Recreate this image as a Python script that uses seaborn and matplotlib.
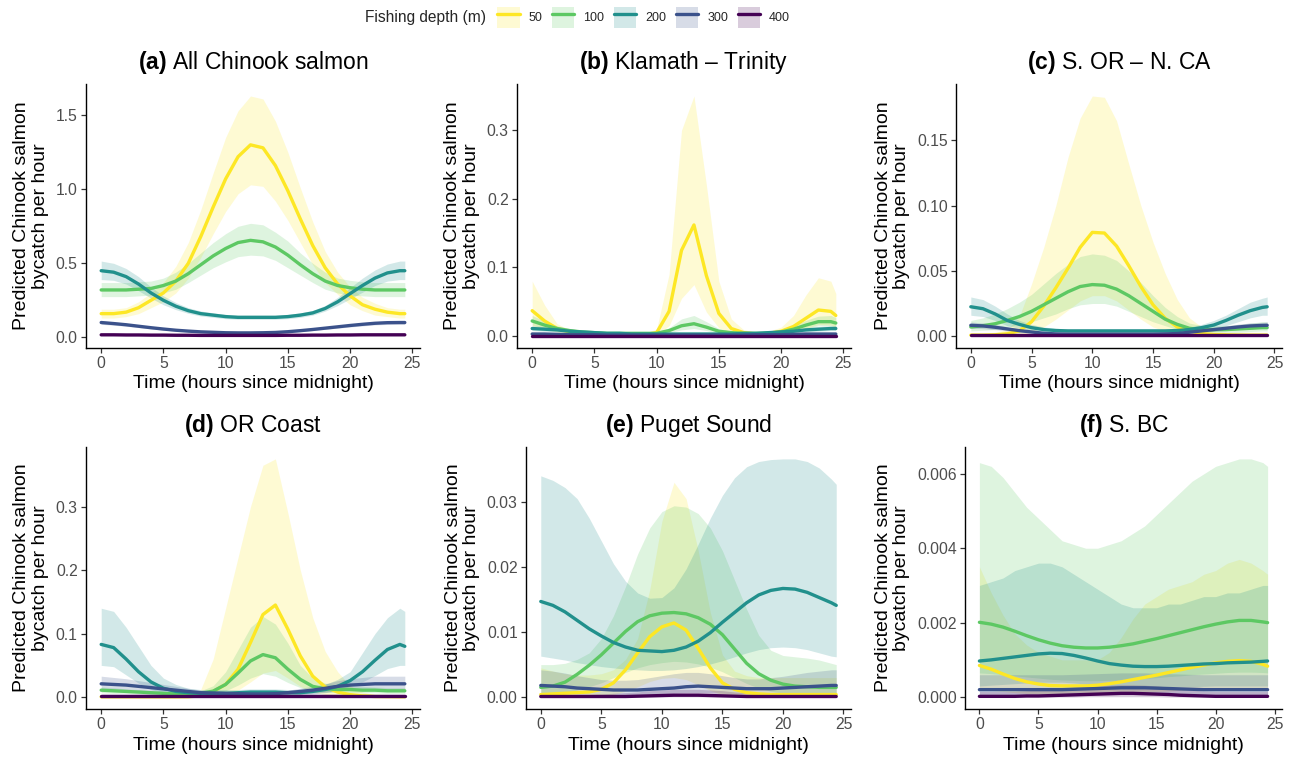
import numpy as np
import pandas as pd
import matplotlib
matplotlib.use("Agg")
import matplotlib.pyplot as plt
import seaborn as sns
from matplotlib.patches import Patch
from matplotlib.lines import Line2D
from matplotlib.legend_handler import HandlerTuple
from matplotlib.ticker import FixedLocator, FormatStrFormatter

sns.set_theme(style="ticks")
plt.rcParams['font.family'] = ['Liberation Sans', 'DejaVu Sans']
plt.rcParams['mathtext.fontset'] = 'custom'
plt.rcParams['mathtext.rm'] = 'Liberation Sans'
plt.rcParams['mathtext.bf'] = 'Liberation Sans:bold'

# ---------------- data ----------------
HOURS = [0, 1, 2, 3, 4, 5, 6, 7, 8, 9, 10, 11, 12, 13, 14, 15, 16, 17, 18, 19, 20, 21, 22, 23, 24, 24.4]
DEPTHS = ["50", "100", "200", "300", "400"]
COLORS = ["#FDE725", "#5DC863", "#21908C", "#3B528B", "#440154"]

TITLES = ["All Chinook salmon", "Klamath \u2013 Trinity", "S. OR \u2013 N. CA",
          "OR Coast", "Puget Sound", "S. BC"]
LETTERS = ["(a)", "(b)", "(c)", "(d)", "(e)", "(f)"]
XTICKS = [0, 5, 10, 15, 20, 25]
YTICKS = [[0.0, 0.5, 1.0, 1.5], [0.0, 0.1, 0.2, 0.3], [0.0, 0.05, 0.10, 0.15],
          [0.0, 0.1, 0.2, 0.3], [0.0, 0.01, 0.02, 0.03], [0.0, 0.002, 0.004, 0.006]]
YDECIMALS = [1, 1, 2, 1, 2, 3]

# (a) All Chinook salmon
A50 = [0.16, 0.16, 0.17, 0.20, 0.25, 0.30, 0.38, 0.50, 0.68, 0.88, 1.07, 1.22, 1.30, 1.28, 1.16, 0.99, 0.80, 0.62, 0.47, 0.36, 0.28, 0.22, 0.19, 0.17, 0.16, 0.16]
A50_LO = [0.13, 0.13, 0.14, 0.16, 0.20, 0.24, 0.30, 0.40, 0.54, 0.70, 0.85, 0.97, 1.03, 1.02, 0.92, 0.79, 0.64, 0.49, 0.37, 0.29, 0.22, 0.18, 0.15, 0.14, 0.13, 0.13]
A50_HI = [0.19, 0.19, 0.20, 0.24, 0.30, 0.37, 0.48, 0.64, 0.86, 1.11, 1.35, 1.53, 1.63, 1.61, 1.46, 1.25, 1.01, 0.78, 0.58, 0.44, 0.34, 0.27, 0.23, 0.20, 0.19, 0.19]
A100 = [0.32, 0.32, 0.32, 0.325, 0.33, 0.35, 0.38, 0.43, 0.49, 0.55, 0.60, 0.64, 0.655, 0.645, 0.61, 0.555, 0.49, 0.43, 0.38, 0.35, 0.335, 0.325, 0.32, 0.32, 0.32, 0.32]
A100_LO = [0.275, 0.275, 0.275, 0.28, 0.285, 0.30, 0.325, 0.37, 0.42, 0.47, 0.51, 0.545, 0.555, 0.55, 0.52, 0.47, 0.42, 0.37, 0.325, 0.30, 0.285, 0.28, 0.275, 0.275, 0.275, 0.275]
A100_HI = [0.37, 0.37, 0.37, 0.375, 0.38, 0.40, 0.44, 0.50, 0.57, 0.64, 0.70, 0.75, 0.77, 0.76, 0.71, 0.65, 0.57, 0.50, 0.44, 0.40, 0.385, 0.375, 0.37, 0.37, 0.37, 0.37]
A200 = [0.45, 0.44, 0.41, 0.36, 0.30, 0.25, 0.21, 0.18, 0.16, 0.15, 0.14, 0.135, 0.135, 0.135, 0.135, 0.14, 0.15, 0.165, 0.195, 0.24, 0.295, 0.35, 0.40, 0.435, 0.45, 0.45]
A200_LO = [0.39, 0.385, 0.36, 0.315, 0.265, 0.22, 0.187, 0.162, 0.144, 0.135, 0.126, 0.122, 0.122, 0.122, 0.122, 0.126, 0.135, 0.15, 0.177, 0.215, 0.26, 0.305, 0.35, 0.38, 0.39, 0.39]
A200_HI = [0.515, 0.50, 0.465, 0.41, 0.34, 0.28, 0.235, 0.20, 0.178, 0.165, 0.155, 0.15, 0.15, 0.15, 0.15, 0.155, 0.165, 0.182, 0.215, 0.27, 0.335, 0.40, 0.455, 0.495, 0.515, 0.515]
A300 = [0.10, 0.093, 0.085, 0.075, 0.065, 0.056, 0.048, 0.042, 0.037, 0.034, 0.031, 0.030, 0.030, 0.031, 0.033, 0.038, 0.045, 0.053, 0.062, 0.071, 0.080, 0.088, 0.095, 0.099, 0.10, 0.10]
A300_LO = [0.088, 0.082, 0.075, 0.066, 0.057, 0.049, 0.042, 0.037, 0.032, 0.030, 0.027, 0.026, 0.026, 0.027, 0.029, 0.033, 0.039, 0.046, 0.054, 0.062, 0.070, 0.077, 0.084, 0.087, 0.088, 0.088]
A300_HI = [0.112, 0.104, 0.095, 0.084, 0.073, 0.063, 0.054, 0.047, 0.042, 0.038, 0.035, 0.034, 0.034, 0.035, 0.037, 0.043, 0.051, 0.060, 0.070, 0.080, 0.090, 0.099, 0.106, 0.110, 0.112, 0.112]
A400 = [0.017, 0.017, 0.016, 0.016, 0.015, 0.015, 0.014, 0.014, 0.013, 0.013, 0.013, 0.013, 0.013, 0.013, 0.013, 0.014, 0.014, 0.015, 0.015, 0.016, 0.016, 0.017, 0.017, 0.017, 0.017, 0.017]
A400_LO = [0.013, 0.013, 0.012, 0.012, 0.011, 0.011, 0.010, 0.010, 0.009, 0.009, 0.009, 0.009, 0.009, 0.009, 0.009, 0.010, 0.010, 0.011, 0.011, 0.012, 0.012, 0.013, 0.013, 0.013, 0.013, 0.013]
A400_HI = [0.022, 0.022, 0.021, 0.021, 0.020, 0.020, 0.019, 0.019, 0.018, 0.018, 0.018, 0.018, 0.018, 0.018, 0.018, 0.019, 0.019, 0.020, 0.020, 0.021, 0.021, 0.022, 0.022, 0.022, 0.022, 0.022]

# (b) Klamath - Trinity
B50 = [0.037, 0.022, 0.011, 0.006, 0.004, 0.003, 0.003, 0.002, 0.002, 0.002, 0.005, 0.036, 0.125, 0.162, 0.088, 0.033, 0.011, 0.005, 0.003, 0.004, 0.007, 0.014, 0.026, 0.038, 0.036, 0.030]
B50_LO = [0.015, 0.010, 0.006, 0.003, 0.002, 0.002, 0.001, 0.001, 0.001, 0.001, 0.002, 0.015, 0.055, 0.075, 0.035, 0.012, 0.004, 0.002, 0.001, 0.002, 0.004, 0.007, 0.011, 0.017, 0.016, 0.013]
B50_HI = [0.080, 0.045, 0.018, 0.009, 0.006, 0.005, 0.004, 0.004, 0.004, 0.004, 0.010, 0.090, 0.300, 0.350, 0.220, 0.080, 0.025, 0.009, 0.006, 0.007, 0.013, 0.030, 0.060, 0.085, 0.080, 0.062]
B100 = [0.022, 0.016, 0.011, 0.008, 0.006, 0.005, 0.004, 0.004, 0.004, 0.004, 0.004, 0.008, 0.015, 0.018, 0.013, 0.007, 0.005, 0.004, 0.004, 0.004, 0.006, 0.010, 0.016, 0.021, 0.021, 0.019]
B100_LO = [0.016, 0.011, 0.008, 0.006, 0.004, 0.003, 0.003, 0.003, 0.003, 0.003, 0.003, 0.005, 0.009, 0.011, 0.008, 0.004, 0.003, 0.003, 0.003, 0.003, 0.004, 0.007, 0.011, 0.015, 0.015, 0.013]
B100_HI = [0.030, 0.022, 0.015, 0.011, 0.008, 0.007, 0.006, 0.006, 0.006, 0.006, 0.006, 0.012, 0.025, 0.030, 0.021, 0.011, 0.007, 0.006, 0.006, 0.006, 0.009, 0.015, 0.023, 0.029, 0.030, 0.027]
B200 = [0.011, 0.010, 0.009, 0.007, 0.006, 0.005, 0.004, 0.004, 0.003, 0.003, 0.003, 0.003, 0.003, 0.003, 0.003, 0.003, 0.003, 0.004, 0.004, 0.005, 0.006, 0.007, 0.009, 0.010, 0.011, 0.011]
B200_LO = [0.008, 0.007, 0.006, 0.005, 0.004, 0.003, 0.003, 0.003, 0.002, 0.002, 0.002, 0.002, 0.002, 0.002, 0.002, 0.002, 0.002, 0.003, 0.003, 0.003, 0.004, 0.005, 0.006, 0.007, 0.008, 0.008]
B200_HI = [0.015, 0.014, 0.012, 0.010, 0.008, 0.007, 0.006, 0.005, 0.004, 0.004, 0.004, 0.004, 0.004, 0.004, 0.004, 0.004, 0.004, 0.005, 0.006, 0.007, 0.008, 0.010, 0.012, 0.014, 0.015, 0.015]
B300 = [0.003, 0.003, 0.0025, 0.002, 0.002, 0.002, 0.0015, 0.0015, 0.0015, 0.0015, 0.0015, 0.0015, 0.0015, 0.0015, 0.0015, 0.0015, 0.0015, 0.0015, 0.002, 0.002, 0.002, 0.0025, 0.003, 0.003, 0.003, 0.003]
B300_LO = [0.0015, 0.0015, 0.0012, 0.001, 0.001, 0.001, 0.0008, 0.0008, 0.0008, 0.0008, 0.0008, 0.0008, 0.0008, 0.0008, 0.0008, 0.0008, 0.0008, 0.0008, 0.001, 0.001, 0.001, 0.0012, 0.0015, 0.0015, 0.0015, 0.0015]
B300_HI = [0.005, 0.005, 0.0045, 0.004, 0.0035, 0.003, 0.003, 0.0025, 0.0025, 0.0025, 0.0025, 0.0025, 0.0025, 0.0025, 0.0025, 0.0025, 0.0025, 0.003, 0.003, 0.0035, 0.004, 0.0045, 0.005, 0.005, 0.005, 0.005]
B400 = [0.0005, 0.0005, 0.0005, 0.0005, 0.0005, 0.0005, 0.0005, 0.0005, 0.0005, 0.0005, 0.0005, 0.0005, 0.0005, 0.0005, 0.0005, 0.0005, 0.0005, 0.0005, 0.0005, 0.0005, 0.0005, 0.0005, 0.0005, 0.0005, 0.0005, 0.0005]
B400_LO = [0.0001, 0.0001, 0.0001, 0.0001, 0.0001, 0.0001, 0.0001, 0.0001, 0.0001, 0.0001, 0.0001, 0.0001, 0.0001, 0.0001, 0.0001, 0.0001, 0.0001, 0.0001, 0.0001, 0.0001, 0.0001, 0.0001, 0.0001, 0.0001, 0.0001, 0.0001]
B400_HI = [0.0015, 0.0015, 0.0015, 0.0015, 0.0015, 0.0015, 0.0015, 0.0015, 0.0015, 0.0015, 0.0015, 0.0015, 0.0015, 0.0015, 0.0015, 0.0015, 0.0015, 0.0015, 0.0015, 0.0015, 0.0015, 0.0015, 0.0015, 0.0015, 0.0015, 0.0015]

# (c) S. OR - N. CA
C50 = [0.0008, 0.0008, 0.001, 0.0018, 0.004, 0.011, 0.023, 0.037, 0.052, 0.068, 0.0795, 0.079, 0.069, 0.054, 0.038, 0.024, 0.0137, 0.007, 0.004, 0.002, 0.0012, 0.001, 0.0008, 0.0007, 0.0007, 0.0007]
C50_LO = [0.0001, 0.0001, 0.0002, 0.0004, 0.001, 0.003, 0.007, 0.013, 0.020, 0.027, 0.031, 0.031, 0.027, 0.020, 0.013, 0.007, 0.004, 0.002, 0.001, 0.0005, 0.0003, 0.0003, 0.0002, 0.0002, 0.0002, 0.0002]
C50_HI = [0.002, 0.002, 0.003, 0.005, 0.015, 0.040, 0.068, 0.100, 0.137, 0.167, 0.184, 0.183, 0.165, 0.132, 0.100, 0.072, 0.048, 0.028, 0.014, 0.007, 0.004, 0.003, 0.003, 0.003, 0.003, 0.003]
C100 = [0.007, 0.008, 0.0095, 0.012, 0.015, 0.019, 0.024, 0.029, 0.034, 0.038, 0.0395, 0.039, 0.036, 0.031, 0.025, 0.019, 0.013, 0.009, 0.006, 0.005, 0.005, 0.005, 0.0055, 0.006, 0.0065, 0.0065]
C100_LO = [0.004, 0.0045, 0.005, 0.007, 0.009, 0.011, 0.014, 0.017, 0.021, 0.024, 0.025, 0.025, 0.023, 0.019, 0.015, 0.011, 0.008, 0.005, 0.0035, 0.003, 0.003, 0.003, 0.003, 0.0035, 0.004, 0.004]
C100_HI = [0.012, 0.014, 0.017, 0.021, 0.026, 0.032, 0.040, 0.048, 0.055, 0.061, 0.063, 0.062, 0.058, 0.050, 0.041, 0.031, 0.022, 0.015, 0.010, 0.008, 0.008, 0.008, 0.009, 0.010, 0.011, 0.011]
C200 = [0.0225, 0.021, 0.017, 0.012, 0.009, 0.0065, 0.005, 0.0043, 0.004, 0.004, 0.004, 0.004, 0.004, 0.004, 0.004, 0.004, 0.004, 0.0043, 0.005, 0.0065, 0.0085, 0.012, 0.016, 0.0195, 0.022, 0.0225]
C200_LO = [0.016, 0.015, 0.012, 0.008, 0.006, 0.0045, 0.0035, 0.003, 0.0028, 0.0028, 0.0028, 0.0028, 0.0028, 0.0028, 0.0028, 0.0028, 0.0028, 0.003, 0.0035, 0.0045, 0.006, 0.008, 0.011, 0.014, 0.016, 0.016]
C200_HI = [0.030, 0.028, 0.023, 0.017, 0.012, 0.009, 0.007, 0.006, 0.0055, 0.0055, 0.0055, 0.0055, 0.0055, 0.0055, 0.0055, 0.0055, 0.0055, 0.006, 0.007, 0.009, 0.012, 0.016, 0.021, 0.026, 0.029, 0.030]
C300 = [0.0083, 0.0078, 0.0068, 0.0055, 0.0042, 0.0032, 0.0022, 0.0017, 0.0015, 0.0015, 0.0015, 0.0015, 0.0015, 0.0015, 0.0015, 0.0015, 0.0017, 0.002, 0.003, 0.004, 0.005, 0.006, 0.007, 0.0078, 0.0082, 0.0083]
C300_LO = [0.006, 0.0057, 0.005, 0.004, 0.003, 0.0023, 0.0016, 0.0012, 0.001, 0.001, 0.001, 0.001, 0.001, 0.001, 0.001, 0.001, 0.0012, 0.0014, 0.0021, 0.0029, 0.0036, 0.0043, 0.005, 0.0056, 0.006, 0.006]
C300_HI = [0.0108, 0.0101, 0.0088, 0.0072, 0.0056, 0.0043, 0.003, 0.0024, 0.0021, 0.0021, 0.0021, 0.0021, 0.0021, 0.0021, 0.0021, 0.0021, 0.0024, 0.0028, 0.0041, 0.0053, 0.0066, 0.0078, 0.0091, 0.0101, 0.0106, 0.0108]
C400 = [0.0005, 0.0005, 0.0005, 0.0005, 0.0005, 0.0005, 0.0005, 0.0005, 0.0005, 0.0005, 0.0005, 0.0005, 0.0005, 0.0005, 0.0005, 0.0005, 0.0005, 0.0005, 0.0005, 0.0005, 0.0005, 0.0005, 0.0005, 0.0005, 0.0005, 0.0005]
C400_LO = [0.0001, 0.0001, 0.0001, 0.0001, 0.0001, 0.0001, 0.0001, 0.0001, 0.0001, 0.0001, 0.0001, 0.0001, 0.0001, 0.0001, 0.0001, 0.0001, 0.0001, 0.0001, 0.0001, 0.0001, 0.0001, 0.0001, 0.0001, 0.0001, 0.0001, 0.0001]
C400_HI = [0.0012, 0.0012, 0.0012, 0.0012, 0.0012, 0.0012, 0.0012, 0.0012, 0.0012, 0.0012, 0.0012, 0.0012, 0.0012, 0.0012, 0.0012, 0.0012, 0.0012, 0.0012, 0.0012, 0.0012, 0.0012, 0.0012, 0.0012, 0.0012, 0.0012, 0.0012]

# (d) OR Coast
D50 = [0.0005, 0.0005, 0.0005, 0.0005, 0.0005, 0.0005, 0.0005, 0.0007, 0.002, 0.009, 0.020, 0.044, 0.086, 0.130, 0.145, 0.107, 0.065, 0.033, 0.016, 0.008, 0.004, 0.002, 0.001, 0.0008, 0.0006, 0.0006]
D50_LO = [0.0001, 0.0001, 0.0001, 0.0001, 0.0001, 0.0001, 0.0001, 0.0001, 0.0003, 0.002, 0.005, 0.011, 0.024, 0.038, 0.042, 0.030, 0.017, 0.008, 0.004, 0.002, 0.001, 0.0005, 0.0002, 0.0001, 0.0001, 0.0001]
D50_HI = [0.003, 0.003, 0.003, 0.003, 0.003, 0.003, 0.004, 0.006, 0.012, 0.060, 0.140, 0.220, 0.300, 0.365, 0.375, 0.290, 0.200, 0.125, 0.072, 0.040, 0.018, 0.008, 0.004, 0.003, 0.003, 0.003]
D100 = [0.011, 0.010, 0.009, 0.008, 0.007, 0.006, 0.005, 0.005, 0.006, 0.0095, 0.020, 0.038, 0.057, 0.067, 0.062, 0.044, 0.028, 0.017, 0.013, 0.012, 0.012, 0.011, 0.011, 0.010, 0.010, 0.010]
D100_LO = [0.007, 0.006, 0.006, 0.005, 0.004, 0.004, 0.003, 0.003, 0.004, 0.005, 0.010, 0.019, 0.030, 0.037, 0.033, 0.023, 0.015, 0.010, 0.008, 0.007, 0.007, 0.007, 0.007, 0.006, 0.006, 0.006]
D100_HI = [0.016, 0.015, 0.013, 0.012, 0.010, 0.009, 0.008, 0.008, 0.010, 0.018, 0.040, 0.075, 0.110, 0.127, 0.115, 0.085, 0.050, 0.030, 0.022, 0.019, 0.018, 0.017, 0.016, 0.015, 0.015, 0.015]
D200 = [0.083, 0.078, 0.060, 0.040, 0.024, 0.014, 0.009, 0.007, 0.006, 0.006, 0.006, 0.007, 0.008, 0.008, 0.008, 0.007, 0.007, 0.009, 0.012, 0.017, 0.026, 0.040, 0.058, 0.075, 0.083, 0.080]
D200_LO = [0.050, 0.048, 0.035, 0.022, 0.012, 0.007, 0.005, 0.004, 0.003, 0.003, 0.003, 0.004, 0.005, 0.005, 0.005, 0.004, 0.004, 0.005, 0.007, 0.010, 0.017, 0.024, 0.034, 0.045, 0.050, 0.050]
D200_HI = [0.140, 0.135, 0.110, 0.080, 0.050, 0.030, 0.020, 0.014, 0.012, 0.012, 0.012, 0.012, 0.013, 0.013, 0.013, 0.012, 0.012, 0.014, 0.020, 0.028, 0.040, 0.070, 0.100, 0.125, 0.140, 0.135]
D300 = [0.021, 0.020, 0.019, 0.017, 0.015, 0.013, 0.011, 0.009, 0.007, 0.0065, 0.006, 0.0055, 0.005, 0.005, 0.0055, 0.007, 0.009, 0.011, 0.014, 0.017, 0.019, 0.020, 0.021, 0.021, 0.021, 0.021]
D300_LO = [0.012, 0.012, 0.011, 0.010, 0.009, 0.008, 0.007, 0.005, 0.004, 0.004, 0.0035, 0.003, 0.003, 0.003, 0.003, 0.004, 0.005, 0.006, 0.008, 0.010, 0.011, 0.012, 0.012, 0.012, 0.012, 0.012]
D300_HI = [0.033, 0.031, 0.029, 0.026, 0.023, 0.020, 0.017, 0.014, 0.011, 0.010, 0.009, 0.009, 0.008, 0.008, 0.009, 0.011, 0.014, 0.017, 0.021, 0.026, 0.029, 0.031, 0.033, 0.033, 0.033, 0.033]
D400 = [0.002, 0.002, 0.002, 0.002, 0.002, 0.002, 0.002, 0.002, 0.002, 0.002, 0.002, 0.002, 0.002, 0.002, 0.002, 0.002, 0.002, 0.002, 0.002, 0.002, 0.002, 0.002, 0.002, 0.002, 0.002, 0.002]
D400_LO = [0.0003, 0.0003, 0.0003, 0.0003, 0.0003, 0.0003, 0.0003, 0.0002, 0.0001, 0.0001, 0.0001, 0.0001, 0.0001, 0.0001, 0.0001, 0.0001, 0.0002, 0.0003, 0.0003, 0.0003, 0.0003, 0.0003, 0.0003, 0.0003, 0.0003, 0.0003]
D400_HI = [0.005, 0.005, 0.005, 0.005, 0.005, 0.005, 0.005, 0.005, 0.005, 0.005, 0.005, 0.005, 0.005, 0.005, 0.005, 0.005, 0.005, 0.005, 0.005, 0.005, 0.005, 0.005, 0.005, 0.005, 0.005, 0.005]

# (e) Puget Sound
E50 = [0.0004, 0.0005, 0.0006, 0.0007, 0.0008, 0.0012, 0.0022, 0.0042, 0.0068, 0.0093, 0.0108, 0.0114, 0.0103, 0.0075, 0.0045, 0.0022, 0.0012, 0.0007, 0.0005, 0.0004, 0.0004, 0.0004, 0.0004, 0.0004, 0.0004, 0.0004]
E50_LO = [0.00003, 0.00005, 0.00006, 0.00008, 0.0001, 0.0002, 0.0004, 0.0009, 0.0016, 0.0024, 0.0029, 0.0030, 0.0027, 0.0019, 0.0010, 0.0004, 0.0002, 0.0001, 0.00005, 0.00003, 0.00003, 0.00003, 0.00003, 0.00003, 0.00003, 0.00003]
E50_HI = [0.0045, 0.0040, 0.0036, 0.0034, 0.0034, 0.0036, 0.0042, 0.0058, 0.0090, 0.0165, 0.0270, 0.0330, 0.0305, 0.0225, 0.0130, 0.0065, 0.0040, 0.0033, 0.0030, 0.0030, 0.0030, 0.0030, 0.0030, 0.0030, 0.0030, 0.0030]
E100 = [0.0015, 0.0017, 0.0023, 0.0035, 0.0049, 0.0065, 0.0083, 0.0101, 0.0116, 0.0125, 0.0129, 0.0130, 0.0128, 0.0122, 0.0112, 0.0096, 0.0074, 0.0052, 0.0036, 0.0026, 0.0020, 0.0017, 0.0016, 0.0015, 0.0015, 0.0015]
E100_LO = [0.0004, 0.0005, 0.0007, 0.0011, 0.0016, 0.0022, 0.0030, 0.0038, 0.0045, 0.0050, 0.0053, 0.0055, 0.0054, 0.0051, 0.0046, 0.0039, 0.0030, 0.0021, 0.0014, 0.0009, 0.0006, 0.0005, 0.0004, 0.0004, 0.0004, 0.0004]
E100_HI = [0.0050, 0.0050, 0.0052, 0.0058, 0.0068, 0.0090, 0.0125, 0.0170, 0.0220, 0.0260, 0.0285, 0.0294, 0.0292, 0.0282, 0.0260, 0.0225, 0.0180, 0.0135, 0.0095, 0.0072, 0.0064, 0.0062, 0.0060, 0.0057, 0.0052, 0.0050]
E200 = [0.0147, 0.0141, 0.0131, 0.0118, 0.0105, 0.0094, 0.0084, 0.0077, 0.0072, 0.0071, 0.0070, 0.0072, 0.0077, 0.0086, 0.0099, 0.0115, 0.0130, 0.0145, 0.0157, 0.0164, 0.0167, 0.0166, 0.0161, 0.0153, 0.0145, 0.0141]
E200_LO = [0.0063, 0.0060, 0.0057, 0.0053, 0.0050, 0.0047, 0.0045, 0.0043, 0.0042, 0.0041, 0.0041, 0.0042, 0.0044, 0.0047, 0.0051, 0.0056, 0.0062, 0.0068, 0.0073, 0.0076, 0.0077, 0.0076, 0.0073, 0.0068, 0.0063, 0.0062]
E200_HI = [0.0340, 0.0333, 0.0322, 0.0305, 0.0275, 0.0240, 0.0205, 0.0178, 0.0160, 0.0152, 0.0153, 0.0168, 0.0197, 0.0235, 0.0275, 0.0310, 0.0337, 0.0354, 0.0362, 0.0365, 0.0366, 0.0366, 0.0362, 0.0352, 0.0335, 0.0327]
E300 = [0.0018, 0.0017, 0.0016, 0.0014, 0.0013, 0.0012, 0.0011, 0.0011, 0.0011, 0.0012, 0.0013, 0.0014, 0.0016, 0.0017, 0.0016, 0.0015, 0.0014, 0.0013, 0.0013, 0.0013, 0.0014, 0.0015, 0.0016, 0.0017, 0.0018, 0.0018]
E300_LO = [0.0007, 0.0007, 0.0006, 0.0005, 0.0005, 0.0004, 0.0004, 0.0004, 0.0004, 0.0004, 0.0005, 0.0006, 0.0007, 0.0007, 0.0007, 0.0006, 0.0005, 0.0005, 0.0005, 0.0005, 0.0005, 0.0006, 0.0006, 0.0007, 0.0007, 0.0007]
E300_HI = [0.0042, 0.0040, 0.0037, 0.0033, 0.0030, 0.0027, 0.0026, 0.0026, 0.0027, 0.0030, 0.0033, 0.0036, 0.0038, 0.0038, 0.0036, 0.0033, 0.0030, 0.0028, 0.0028, 0.0030, 0.0032, 0.0035, 0.0038, 0.0040, 0.0042, 0.0042]
E400 = [0.0001, 0.0001, 0.0001, 0.0001, 0.0001, 0.0001, 0.0001, 0.0001, 0.00015, 0.0002, 0.00025, 0.0003, 0.0003, 0.0003, 0.00025, 0.0002, 0.00015, 0.0001, 0.0001, 0.0001, 0.0001, 0.0001, 0.0001, 0.0001, 0.0001, 0.0001]
E400_LO = [0.00001, 0.00001, 0.00001, 0.00001, 0.00001, 0.00001, 0.00001, 0.00001, 0.00002, 0.00003, 0.00004, 0.00005, 0.00005, 0.00005, 0.00004, 0.00003, 0.00002, 0.00001, 0.00001, 0.00001, 0.00001, 0.00001, 0.00001, 0.00001, 0.00001, 0.00001]
E400_HI = [0.0005, 0.0005, 0.0005, 0.0005, 0.0005, 0.0005, 0.0006, 0.0007, 0.0008, 0.0010, 0.0011, 0.0012, 0.0012, 0.0012, 0.0011, 0.0010, 0.0008, 0.0007, 0.0006, 0.0005, 0.0005, 0.0005, 0.0005, 0.0005, 0.0005, 0.0005]

# (f) S. BC
F50 = [0.00085, 0.00075, 0.00062, 0.00050, 0.00041, 0.00035, 0.00031, 0.00030, 0.00030, 0.00030, 0.00032, 0.00036, 0.00041, 0.00047, 0.00053, 0.00059, 0.00066, 0.00073, 0.00080, 0.00086, 0.00092, 0.00096, 0.00098, 0.00096, 0.00088, 0.00083]
F50_LO = [0.00020, 0.00018, 0.00015, 0.00012, 0.00010, 0.00008, 0.00007, 0.00007, 0.00007, 0.00007, 0.00008, 0.00009, 0.00010, 0.00012, 0.00013, 0.00015, 0.00016, 0.00018, 0.00020, 0.00021, 0.00022, 0.00023, 0.00023, 0.00022, 0.00020, 0.00020]
F50_HI = [0.0035, 0.0028, 0.0022, 0.0017, 0.0014, 0.0012, 0.0011, 0.0010, 0.0010, 0.0010, 0.0010, 0.0012, 0.0016, 0.0021, 0.0025, 0.0027, 0.0029, 0.0030, 0.0031, 0.0033, 0.0034, 0.0036, 0.0037, 0.0036, 0.0034, 0.0033]
F100 = [0.00201, 0.00196, 0.00188, 0.00177, 0.00165, 0.00154, 0.00145, 0.00138, 0.00134, 0.00132, 0.00132, 0.00134, 0.00138, 0.00143, 0.00150, 0.00157, 0.00165, 0.00173, 0.00181, 0.00189, 0.00196, 0.00202, 0.00206, 0.00206, 0.00202, 0.00200]
F100_LO = [0.00065, 0.00063, 0.00060, 0.00057, 0.00054, 0.00051, 0.00048, 0.00046, 0.00045, 0.00044, 0.00044, 0.00045, 0.00046, 0.00048, 0.00050, 0.00052, 0.00055, 0.00057, 0.00060, 0.00062, 0.00064, 0.00066, 0.00067, 0.00067, 0.00066, 0.00065]
F100_HI = [0.0063, 0.0062, 0.0059, 0.0055, 0.0051, 0.0048, 0.0045, 0.0042, 0.0041, 0.0040, 0.0040, 0.0041, 0.0042, 0.0044, 0.0046, 0.0049, 0.0052, 0.0055, 0.0058, 0.0060, 0.0062, 0.0063, 0.0064, 0.0064, 0.0063, 0.0062]
F200 = [0.00097, 0.00100, 0.00104, 0.00108, 0.00112, 0.00116, 0.00118, 0.00117, 0.00112, 0.00105, 0.00097, 0.00090, 0.00086, 0.00083, 0.00082, 0.00082, 0.00083, 0.00085, 0.00087, 0.00089, 0.00090, 0.00092, 0.00093, 0.00094, 0.00096, 0.00097]
F200_LO = [0.00030, 0.00032, 0.00034, 0.00036, 0.00038, 0.00040, 0.00040, 0.00040, 0.00038, 0.00035, 0.00032, 0.00030, 0.00028, 0.00027, 0.00027, 0.00027, 0.00027, 0.00028, 0.00028, 0.00029, 0.00030, 0.00030, 0.00030, 0.00030, 0.00030, 0.00030]
F200_HI = [0.0030, 0.0031, 0.0032, 0.0034, 0.0035, 0.0036, 0.0036, 0.0035, 0.0033, 0.0031, 0.0029, 0.0027, 0.0025, 0.0024, 0.0024, 0.0024, 0.0025, 0.0025, 0.0026, 0.0027, 0.0027, 0.0028, 0.0028, 0.0029, 0.0030, 0.0030]
F300 = [0.00020, 0.00020, 0.00020, 0.00020, 0.00020, 0.00020, 0.00020, 0.00020, 0.00021, 0.00022, 0.00023, 0.00024, 0.00025, 0.00025, 0.00025, 0.00024, 0.00023, 0.00022, 0.00021, 0.00020, 0.00020, 0.00020, 0.00020, 0.00020, 0.00020, 0.00020]
F300_LO = [0.00005, 0.00005, 0.00005, 0.00005, 0.00005, 0.00005, 0.00005, 0.00005, 0.00006, 0.00006, 0.00007, 0.00007, 0.00008, 0.00008, 0.00008, 0.00007, 0.00007, 0.00006, 0.00006, 0.00005, 0.00005, 0.00005, 0.00005, 0.00005, 0.00005, 0.00005]
F300_HI = [0.00060, 0.00060, 0.00060, 0.00060, 0.00060, 0.00060, 0.00060, 0.00060, 0.00061, 0.00062, 0.00063, 0.00064, 0.00065, 0.00065, 0.00065, 0.00064, 0.00063, 0.00062, 0.00061, 0.00060, 0.00060, 0.00060, 0.00060, 0.00060, 0.00060, 0.00060]
F400 = [0.00002, 0.00002, 0.00002, 0.00002, 0.00003, 0.00003, 0.00004, 0.00005, 0.00006, 0.00007, 0.00008, 0.00009, 0.00010, 0.00010, 0.00009, 0.00008, 0.00007, 0.00005, 0.00004, 0.00003, 0.00002, 0.00002, 0.00002, 0.00002, 0.00002, 0.00002]
F400_LO = [0.0, 0.0, 0.0, 0.0, 0.0, 0.0, 0.0, 0.0, 0.0, 0.00001, 0.00001, 0.00001, 0.00001, 0.00001, 0.00001, 0.00001, 0.0, 0.0, 0.0, 0.0, 0.0, 0.0, 0.0, 0.0, 0.0, 0.0]
F400_HI = [0.00015, 0.00015, 0.00015, 0.00015, 0.00017, 0.00019, 0.00021, 0.00024, 0.00027, 0.00029, 0.00031, 0.00032, 0.00033, 0.00033, 0.00032, 0.00030, 0.00027, 0.00023, 0.00019, 0.00016, 0.00015, 0.00015, 0.00015, 0.00015, 0.00015, 0.00015]

PANEL_SERIES = [
    [(A50, A50_LO, A50_HI), (A100, A100_LO, A100_HI), (A200, A200_LO, A200_HI), (A300, A300_LO, A300_HI), (A400, A400_LO, A400_HI)],
    [(B50, B50_LO, B50_HI), (B100, B100_LO, B100_HI), (B200, B200_LO, B200_HI), (B300, B300_LO, B300_HI), (B400, B400_LO, B400_HI)],
    [(C50, C50_LO, C50_HI), (C100, C100_LO, C100_HI), (C200, C200_LO, C200_HI), (C300, C300_LO, C300_HI), (C400, C400_LO, C400_HI)],
    [(D50, D50_LO, D50_HI), (D100, D100_LO, D100_HI), (D200, D200_LO, D200_HI), (D300, D300_LO, D300_HI), (D400, D400_LO, D400_HI)],
    [(E50, E50_LO, E50_HI), (E100, E100_LO, E100_HI), (E200, E200_LO, E200_HI), (E300, E300_LO, E300_HI), (E400, E400_LO, E400_HI)],
    [(F50, F50_LO, F50_HI), (F100, F100_LO, F100_HI), (F200, F200_LO, F200_HI), (F300, F300_LO, F300_HI), (F400, F400_LO, F400_HI)],
]

# ---------------- layout (pixel boxes of each panel: left, top, right, bottom) ----------------
W, H = 1291, 759
BOXES = [(86, 84, 420, 348), (517, 84, 851, 348), (956, 84, 1282, 348),
         (86, 447, 420, 709), (526, 447, 851, 709), (965, 447, 1282, 709)]

palette = dict(zip(DEPTHS, COLORS))
fig = plt.figure(figsize=(W / 100, H / 100), dpi=100)

for i, series in enumerate(PANEL_SERIES):
    l, t, r, b = BOXES[i]
    ax = fig.add_axes([l / W, 1 - b / H, (r - l) / W, (b - t) / H])
    rows = []
    for depth, (mean, lo, hi) in zip(DEPTHS, series):
        for h, m, lw_, hw_ in zip(HOURS, mean, lo, hi):
            rows.append({"hour": h, "depth": depth, "pred": m, "lo": lw_, "hi": hw_})
    df = pd.DataFrame(rows)
    for depth in DEPTHS:
        sub = df[df["depth"] == depth]
        ax.fill_between(sub["hour"], sub["lo"], sub["hi"], color=palette[depth],
                        alpha=0.2, linewidth=0, zorder=1)
    sns.lineplot(data=df, x="hour", y="pred", hue="depth", hue_order=DEPTHS,
                 palette=palette, linewidth=2.4, estimator=None, sort=False,
                 legend=False, ax=ax, zorder=2)
    ax.margins(x=0.05, y=0.05)
    ax.xaxis.set_major_locator(FixedLocator(XTICKS))
    ax.yaxis.set_major_locator(FixedLocator(YTICKS[i]))
    ax.yaxis.set_major_formatter(FormatStrFormatter("%%.%df" % YDECIMALS[i]))
    for s in ["top", "right"]:
        ax.spines[s].set_visible(False)
    for s in ["left", "bottom"]:
        ax.spines[s].set_color("black")
        ax.spines[s].set_linewidth(1.0)
    ax.tick_params(axis="both", which="major", bottom=True, left=True, length=3.5,
                   width=0.9, color="#333333", labelcolor="#4D4D4D", labelsize=11.3, pad=2.5)
    ax.set_xlabel("Time (hours since midnight)", fontsize=14, labelpad=3, color="black")
    ax.set_ylabel("Predicted Chinook salmon\nbycatch per hour", fontsize=14, labelpad=5,
                  color="black", linespacing=1.1)
    ax.set_title(r"$\mathbf{" + LETTERS[i] + r"}$ " + TITLES[i], fontsize=16.5, pad=11, color="black")
    ax.grid(False)
    ax.set_facecolor("white")

handles = [(Patch(facecolor=c, alpha=0.2, edgecolor="none"), Line2D([0], [0], color=c, lw=2.4))
           for c in COLORS]
fig.legend(handles, DEPTHS, loc="center left", bbox_to_anchor=(497 / W, 1 - 17.5 / H), ncol=5,
           frameon=False, handler_map={tuple: HandlerTuple(ndivide=1, pad=0)},
           handlelength=1.8, handleheight=2.2, handletextpad=0.7, columnspacing=0.78,
           fontsize=9, borderpad=0, borderaxespad=0)
fig.text(365 / W, 1 - 17.5 / H, "Fishing depth (m)", ha="left", va="center", fontsize=11.2)

fig.savefig("out.png", dpi=100, facecolor="white")
